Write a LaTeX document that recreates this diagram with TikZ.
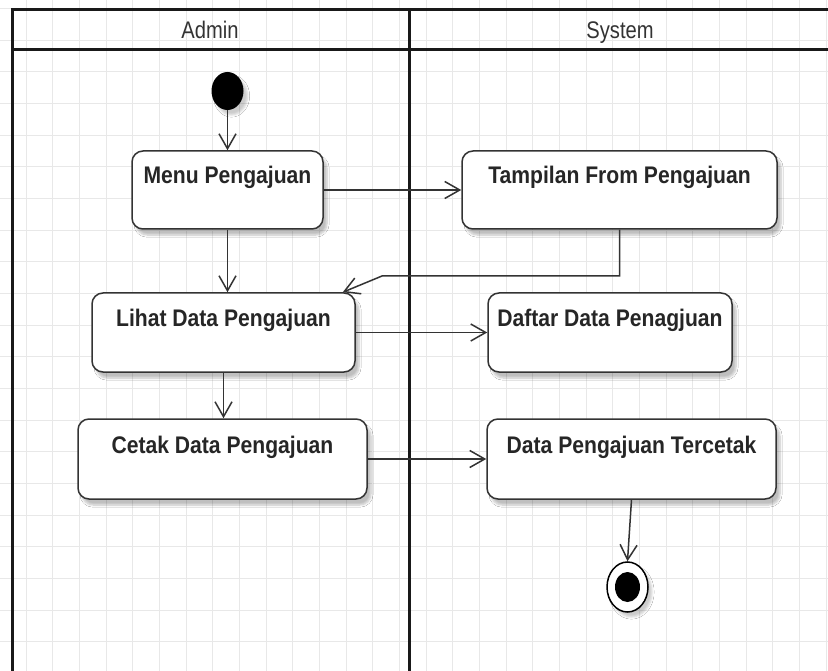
\documentclass[tikz,border=0pt]{standalone}
\usepackage{fontspec}
\setmainfont{Liberation Sans}
\usepackage{graphicx}
\usetikzlibrary{arrows.meta,shapes.geometric,shadows.blur,calc}

\definecolor{ink}{HTML}{333333}
\definecolor{gridline}{HTML}{E8E8E8}

\tikzset{
  activity/.style={
    draw=ink, line width=1.5pt, rounded corners=11pt, fill=white,
    inner sep=0pt, text height=18pt, text depth=30pt,
    blur shadow={shadow xshift=4pt, shadow yshift=-6pt, shadow blur steps=6, shadow opacity=25},
    font=\fontsize{24}{28}\selectfont\bfseries, text=black!85
  },
  flow/.style={draw=ink, line width=1.5pt, -{Straight Barb[length=15pt,width=17pt,line width=1.5pt]}},
  lanehead/.style={font=\fontsize{24}{28}\selectfont, text=ink, inner sep=0pt, text height=17pt, text depth=5pt},
  frame/.style={line width=3pt, black!90}
}
\newcommand{\narrow}[1]{\scalebox{0.88}[1]{#1}}
\newcommand{\lanetext}[1]{\scalebox{0.84}[1]{#1}}

\begin{document}
\begin{tikzpicture}[x=1pt, y=-1pt]
  \useasboundingbox (0,0) rectangle (828,671);
  \fill[white] (0,0) rectangle (828,671);

  % background grid
  \foreach \i in {0,...,31} {
    \draw[gridline, line width=0.8pt] ({-0.67+26.67*\i},0) -- ({-0.67+26.67*\i},671);
  }
  \foreach \j in {0,...,21} {
    \draw[gridline, line width=0.8pt] (0,{8.3+31.67*\j}) -- (828,{8.3+31.67*\j});
  }

  % swimlane frame
  \draw[frame] (12,671) -- (12,10) -- (828,10);
  \draw[frame] (12,50) -- (828,50);
  \draw[frame] (409,10) -- (409,671);
  \node[lanehead] (adminlane) at (210,32.5) {\lanetext{Admin}};
  \node[lanehead] (systemlane) at (620,32.5) {\lanetext{System}};

  % initial node
  \node[ellipse, fill=black, minimum width=32pt, minimum height=38pt, inner sep=0pt,
        blur shadow={shadow xshift=4pt, shadow yshift=-5pt, shadow opacity=20}] (start) at (227.5,91) {};

  % activities
  \node[activity, minimum width=191pt, minimum height=78pt] (menu) at (227.5,190) {\narrow{Menu Pengajuan}};
  \node[activity, minimum width=315pt, minimum height=78pt] (tampil) at (619.5,190) {\narrow{Tampilan From Pengajuan}};
  \node[activity, minimum width=263pt, minimum height=79pt] (lihat) at (223.5,332.5) {\narrow{Lihat Data Pengajuan}};
  \node[activity, minimum width=244pt, minimum height=79pt] (daftar) at (610,332.5) {\narrow{Daftar Data Penagjuan}};
  \node[activity, minimum width=289pt, minimum height=80pt] (cetak) at (222.5,459) {\narrow{Cetak Data Pengajuan}};
  \node[activity, minimum width=289pt, minimum height=80pt] (tercetak) at (631.5,459) {\narrow{Data Pengajuan Tercetak}};

  % final node
  \node[ellipse, draw=black, line width=1.5pt, fill=white, minimum width=41pt, minimum height=50pt, inner sep=0pt,
        blur shadow={shadow xshift=4pt, shadow yshift=-5pt, shadow opacity=20}] (final) at (627.5,587) {};
  \node[ellipse, fill=black, minimum width=25pt, minimum height=30pt, inner sep=0pt] (finaldot) at (final.center) {};

  % control flow
  \coordinate (bend) at (382,276);
  \draw[flow] (start) -- (menu);
  \draw[flow] (menu.east) -- (tampil.west);
  \draw[flow] (menu.south) -- (menu.south |- lihat.north);
  \draw[flow] (tampil.south) |- (bend) -- ($(lihat.north east)+(-13,0)$);
  \draw[flow] (lihat.east) -- (daftar.west);
  \draw[flow] (lihat.south) -- (lihat.south |- cetak.north);
  \draw[flow] (cetak.east) -- (tercetak.west);
  \draw[flow] (tercetak.south) -- (final.north);
\end{tikzpicture}
\end{document}
